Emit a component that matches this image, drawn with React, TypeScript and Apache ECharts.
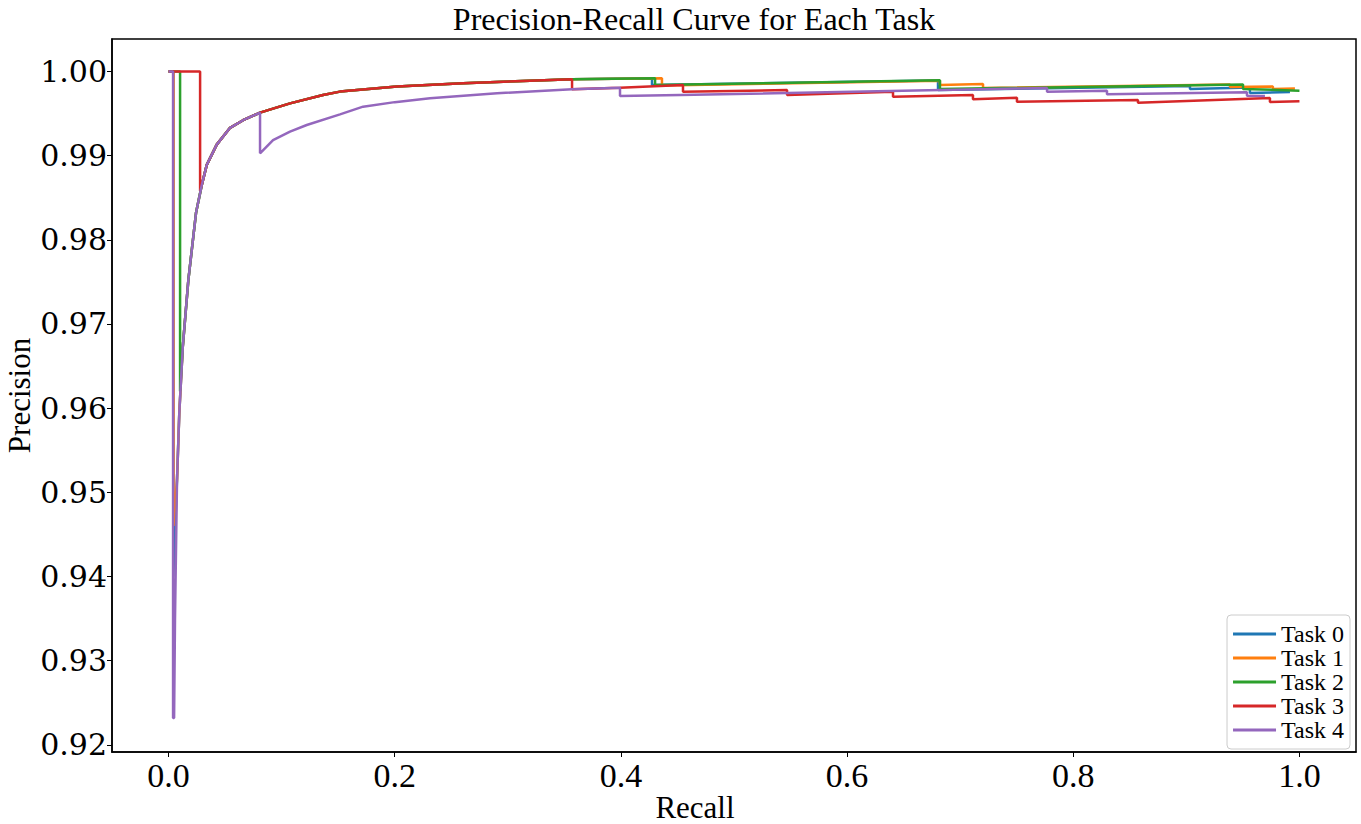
import React, { useEffect, useRef } from "react";
import * as echarts from "echarts";

const taskNames = ["Task 0", "Task 1", "Task 2", "Task 3", "Task 4"];
const taskColors = ["#1f77b4", "#ff7f0e", "#2ca02c", "#d62728", "#9467bd"];

const xTicks = [0, 0.2, 0.4, 0.6, 0.8, 1.0];
const yTicks = [0.92, 0.93, 0.94, 0.95, 0.96, 0.97, 0.98, 0.99, 1.0];

// shared rising part of the curves (recall, precision)
const commonRise: [number, number][] = [
  [0.0049, 0.9232],
  [0.0057, 0.9348],
  [0.0075, 0.9515],
  [0.0095, 0.9594],
  [0.0126, 0.9673],
  [0.0175, 0.9752],
  [0.0243, 0.9832],
  [0.0294, 0.9865],
  [0.0338, 0.9889],
  [0.0426, 0.9913],
  [0.0544, 0.9933],
  [0.0659, 0.9942],
  [0.0809, 0.9951],
  [0.1074, 0.9962],
  [0.1366, 0.9972],
  [0.1516, 0.9976],
  [0.202, 0.9982],
  [0.2604, 0.9986],
  [0.3196, 0.9989],
  [0.3568, 0.99906],
];

// initial drops
const task0Head: [number, number][] = [[0, 1], [0.0042, 1], [0.0042, 0.94]];
const task1Head: [number, number][] = [[0, 1], [0.0044, 1], [0.0044, 0.946]];
const task2Head: [number, number][] = [[0, 1], [0.0102, 1], [0.0102, 0.962]];
const task3Head: [number, number][] = [[0, 1], [0.0279, 1], [0.0279, 0.9858]];
const task4Head: [number, number][] = [[0, 1], [0.004, 1], [0.004, 0.9232]];

// range of commonRise each task follows [from, to]
const task0Join = [0.0075, 0.3568];
const task1Join = [0.0075, 0.3568];
const task2Join = [0.0126, 0.3568];
const task3Join = [0.0294, 0.3568];
const task4Join = [0.0049, 0.0809];

// tails
const task0Tail: [number, number][] = [
  [0.4275, 0.99918], [0.4275, 0.99838], [0.6804, 0.99891], [0.6804, 0.99779],
  [0.9032, 0.99826], [0.9032, 0.99791], [0.9562, 0.99808], [0.9562, 0.99744],
  [0.9916, 0.99755],
];
const task1Tail: [number, number][] = [
  [0.4363, 0.99918], [0.4363, 0.99832], [0.6821, 0.9989], [0.6821, 0.99838],
  [0.7202, 0.9985], [0.7202, 0.99803], [0.9386, 0.99844], [0.9386, 0.99814],
  [0.9765, 0.9982], [0.9765, 0.99791], [0.996, 0.99797],
];
const task2Tail: [number, number][] = [
  [0.4302, 0.99918], [0.4302, 0.99838], [0.6821, 0.99894], [0.6821, 0.99791],
  [0.9501, 0.99844], [0.9501, 0.99791], [1.0, 0.99771],
];
const task3Tail: [number, number][] = [
  [0.3568, 0.99787], [0.3992, 0.99806], [0.4549, 0.99838], [0.4549, 0.99759],
  [0.5469, 0.99779], [0.5469, 0.9972], [0.6406, 0.99759], [0.6406, 0.99699],
  [0.7113, 0.9972], [0.7113, 0.99669], [0.7502, 0.99688], [0.7502, 0.9964],
  [0.8572, 0.9966], [0.8572, 0.99628], [0.9739, 0.99684], [0.9739, 0.99636],
  [1.0, 0.99645],
];
const task4Tail: [number, number][] = [
  [0.0809, 0.99027], [0.0924, 0.99185], [0.1074, 0.99284], [0.1222, 0.99363],
  [0.1516, 0.9949], [0.172, 0.99581], [0.2, 0.99635], [0.2312, 0.9968],
  [0.2905, 0.9974], [0.3568, 0.99787], [0.3992, 0.99806], [0.3992, 0.99708],
  [0.4523, 0.9972], [0.7529, 0.99797], [0.7768, 0.99803], [0.7768, 0.99759],
  [0.8298, 0.99771], [0.8298, 0.99728], [0.9536, 0.99752], [0.9536, 0.99711],
  [0.9695, 0.99708],
];

const heads = [task0Head, task1Head, task2Head, task3Head, task4Head];
const joins = [task0Join, task1Join, task2Join, task3Join, task4Join];
const tails = [task0Tail, task1Tail, task2Tail, task3Tail, task4Tail];

const serif = "Liberation Serif";

export default function App() {
  const ref = useRef<HTMLDivElement>(null);
  useEffect(() => {
    if (!ref.current) return;
    const chart = echarts.init(ref.current, undefined, { renderer: "svg" });
    const series = taskNames.map((name, i) => {
      const [a, b] = joins[i];
      const mid = commonRise.filter(([r]) => r >= a && r <= b);
      return {
        name,
        type: "line",
        data: [...heads[i], ...mid, ...tails[i]],
        symbol: "none",
        showSymbol: false,
        lineStyle: { color: taskColors[i], width: 2.5 },
        itemStyle: { color: taskColors[i] },
        emphasis: { disabled: true },
      };
    });
    chart.setOption({
      animation: false,
      backgroundColor: "#fff",
      title: {
        text: "Precision-Recall Curve for Each Task",
        left: 694,
        top: 3,
        textAlign: "center",
        padding: 0,
        textStyle: { fontFamily: serif, fontSize: 32, fontWeight: "normal", color: "#000" },
      },
      grid: {
        left: 112,
        top: 39,
        width: 1244,
        height: 713,
        show: true,
        borderColor: "#000",
        borderWidth: 1.5,
        backgroundColor: "transparent",
        containLabel: false,
        outerBoundsMode: "none",
      },
      legend: {
        orient: "vertical",
        right: 11,
        top: 615,
        data: taskNames.map((n) => ({ name: n, icon: "rect" })),
        itemWidth: 43,
        itemHeight: 3,
        itemGap: 0,
        padding: [7, 6, 7, 6],
        borderColor: "#cccccc",
        borderWidth: 1,
        borderRadius: 4,
        backgroundColor: "#fff",
        textStyle: { fontFamily: serif, fontSize: 24, lineHeight: 22.5, color: "#000" },
      },
      xAxis: {
        type: "value",
        min: -0.05,
        max: 1.05,
        name: "Recall",
        nameLocation: "middle",
        nameGap: 40,
        nameMoveOverlap: false,
        nameTextStyle: { fontFamily: serif, fontSize: 31, color: "#000", padding: [0, 78, 0, 0] },
        axisLine: { show: true, onZero: false, lineStyle: { color: "#000", width: 1.5 } },
        axisTick: { show: true, length: 5, customValues: xTicks, lineStyle: { color: "#000" } },
        axisLabel: {
          customValues: xTicks,
          formatter: (v: number) => v.toFixed(1),
          fontFamily: serif,
          fontSize: 34,
          color: "#000",
          margin: 6,
        },
        splitLine: { show: false },
      },
      yAxis: {
        type: "value",
        min: 0.91915,
        max: 1.00385,
        name: "Precision",
        nameLocation: "middle",
        nameRotate: 90,
        nameGap: 77,
        nameMoveOverlap: false,
        nameTextStyle: { fontFamily: serif, fontSize: 31, color: "#000" },
        axisLine: { show: true, onZero: false, lineStyle: { color: "#000", width: 1.5 } },
        axisTick: { show: true, length: 5, customValues: yTicks, lineStyle: { color: "#000" } },
        axisLabel: {
          customValues: yTicks,
          formatter: (v: number) => v.toFixed(2),
          fontFamily: "DejaVu Serif",
          fontSize: 30,
          color: "#000",
          margin: 5,
        },
        splitLine: { show: false },
      },
      series,
    });
    return () => chart.dispose();
  }, []);
  return (
    <div
      ref={ref}
      style={{ position: "fixed", left: 0, top: 0, width: 1361, height: 824, background: "#fff" }}
    />
  );
}
